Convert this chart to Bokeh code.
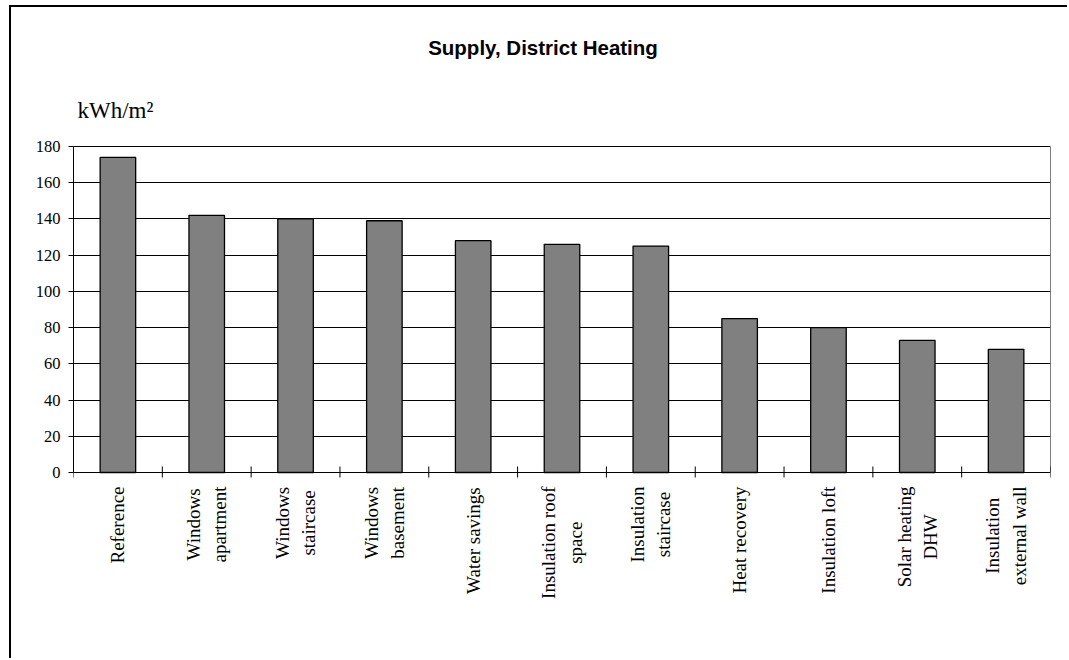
import numpy as np
from bokeh.plotting import figure
from bokeh.models import Range1d, FixedTicker
from bokeh.core.properties import value
from bokeh.embed import file_html
from bokeh.resources import INLINE

# ---- data ----
categories = [
    "Reference",
    "Windows\napartment",
    "Windows\nstaircase",
    "Windows\nbasement",
    "Water savings",
    "Insulation roof\nspace",
    "Insulation\nstaircase",
    "Heat recovery",
    "Insulation loft",
    "Solar heating\nDHW",
    "Insulation\nexternal wall",
]
supply = [174, 142, 140, 139, 128, 126, 125, 85, 80, 73, 68]
y_ticks = [0, 20, 40, 60, 80, 100, 120, 140, 160, 180]
title_text = "Supply, District Heating"
unit_text = "kWh/m\u00b2"

# ---- layout helpers (pixels) ----
FRAME_H = 653           # frame height in px
ZERO_PX = 465           # px from frame top to value 0
PX_PER_UNIT = 326 / 180.0
LABEL_FONT_PX = 19

# approximate Times/Liberation Serif advance widths (em/1000)
TIMES_W = {" ": 250, "a": 444, "b": 500, "c": 444, "d": 500, "e": 444, "f": 333,
           "g": 500, "h": 500, "i": 278, "l": 278, "m": 778, "n": 500, "o": 500,
           "p": 500, "r": 333, "s": 389, "t": 278, "u": 500, "v": 500, "w": 722,
           "x": 500, "y": 500, "D": 722, "H": 722, "I": 333, "R": 667, "S": 556,
           "W": 944}


def text_px(s, size):
    return sum(TIMES_W.get(ch, 500) for ch in s) / 1000.0 * size


n = len(categories)
centers = [i + 0.5 for i in range(n)]
bounds = [float(i) for i in range(n + 1)]

y_top = ZERO_PX / PX_PER_UNIT
y_bot = -(FRAME_H - ZERO_PX) / PX_PER_UNIT

p = figure(
    width=1058, height=FRAME_H,
    x_range=Range1d(0, n), y_range=Range1d(y_bot, y_top),
    output_backend="svg", toolbar_location=None,
    x_axis_location=None,
    min_border_left=62, min_border_right=19,
    min_border_top=0, min_border_bottom=0,
)
p.styles = {"margin-left": "11px", "margin-top": "7px",
            "margin-bottom": "-20px", "margin-right": "-20px",
            "box-shadow": "-2px -2px 0px 0px black"}
p.background_fill_color = "white"
p.border_fill_color = "white"
p.outline_line_color = None

# horizontal gridlines (incl. top border at 180 and base line at 0)
p.xgrid.grid_line_color = None
p.ygrid.ticker = FixedTicker(ticks=y_ticks)
p.ygrid.grid_line_color = "black"
p.ygrid.grid_line_width = 1

# bars
p.vbar(x=centers, top=supply, width=0.4, fill_color="#808080",
       line_color="black", line_width=1.3)

# right border of the plot area
p.segment(x0=[n], x1=[n], y0=[0], y1=[y_ticks[-1]], line_color="black", line_width=1)

# category boundary ticks on the base line
p.segment(x0=bounds, x1=bounds, y0=[-5 / PX_PER_UNIT] * len(bounds),
          y1=[6 / PX_PER_UNIT] * len(bounds), line_color="black", line_width=1)

# category labels (vertical, lines centred on each other)
label_y = [-(14 + max(text_px(line, LABEL_FONT_PX) for line in c.split("\n")) / 2) / PX_PER_UNIT
           for c in categories]
p.text(x=centers, y=label_y, text=categories, angle=np.pi / 2,
       text_align="center", text_baseline="middle",
       text_font=value("Liberation Serif"), text_font_size=f"{LABEL_FONT_PX}px",
       text_color="black", text_line_height=1.25)

# y axis
p.yaxis.ticker = FixedTicker(ticks=y_ticks)
p.yaxis.bounds = (0, y_ticks[-1])
p.yaxis.axis_line_color = "black"
p.yaxis.major_tick_in = 0
p.yaxis.major_tick_out = 5
p.yaxis.minor_tick_line_color = None
p.yaxis.major_label_standoff = 8
p.yaxis.major_label_text_font = "Liberation Serif"
p.yaxis.major_label_text_font_size = "16.5px"
p.yaxis.major_label_text_color = "black"

# title and unit
p.text(x=[5.286], y=[(ZERO_PX - 40) / PX_PER_UNIT], text=[title_text],
       text_align="center", text_baseline="middle",
       text_font=value("Liberation Sans"), text_font_style="bold",
       text_font_size="20.5px", text_color="black")
p.text(x=[0.045], y=[(ZERO_PX - 103) / PX_PER_UNIT], text=[unit_text],
       text_align="left", text_baseline="middle",
       text_font=value("Liberation Serif"), text_font_size="23px",
       text_color="black")

open("out.html", "w").write(file_html(p, INLINE))
